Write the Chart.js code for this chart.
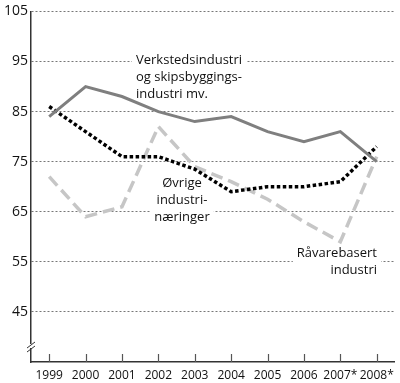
<!DOCTYPE html>
<html lang="no">
<head>
    <meta charset="UTF-8">
    <title>Industri</title>
    <script src="https://cdn.jsdelivr.net/npm/chart.js"></script>
    <style>
        body { margin: 0; background: #fff; }
        #wrap { width: 400px; height: 383px; position: relative; }
    </style>
</head>
<body>
    <div id="wrap"><canvas id="myChart" width="400" height="383"></canvas></div>

    <script>
        // categories and values
        const years = ['1999', '2000', '2001', '2002', '2003', '2004', '2005', '2006', '2007*', '2008*'];
        const verksted = [84, 90, 88, 85, 83, 84, 81, 79, 81, 75];
        const ovrige = [86, 81, 76, 76, 73.5, 69, 70, 70, 71, 78];
        const ravare = [72, 64, 66, 82, 74, 71, 67.5, 63, 59, 76];
        const yTicks = [45, 55, 65, 75, 85, 95, 105];

        const FONT = '"Open Sans", sans-serif';

        // text labels placed in the plot
        const labels = [
            { lines: ['Verkstedsindustri', 'og skipsbyggings-', 'industri mv.'], x: 136, y: 60, align: 'left' },
            { lines: ['Øvrige', 'industri-', 'næringer'], x: 182, y: 183, align: 'center' },
            { lines: ['Råvarebasert', 'industri'], x: 377, y: 253, align: 'right' }
        ];

        const extras = {
            id: 'extras',
            beforeDatasetsDraw(chart) {
                const ctx = chart.ctx;
                ctx.save();
                ctx.font = '13px ' + FONT;
                ctx.textBaseline = 'middle';
                labels.forEach(l => {
                    const widths = l.lines.map(s => ctx.measureText(s).width);
                    const w = Math.max(...widths);
                    let left = l.x;
                    if (l.align === 'center') left = l.x - w / 2;
                    if (l.align === 'right') left = l.x - w;
                    ctx.fillStyle = '#fff';
                    ctx.fillRect(left - 4, l.y - 9, w + 8, 17 * (l.lines.length - 1) + 18);
                    ctx.fillStyle = '#111';
                    ctx.textAlign = l.align;
                    l.lines.forEach((s, i) => ctx.fillText(s, l.x, l.y + i * 17));
                });
                ctx.restore();
            },
            afterDraw(chart) {
                const ctx = chart.ctx;
                const xs = chart.scales.x;
                const area = chart.chartArea;
                ctx.save();
                // small tick marks on the x axis
                ctx.strokeStyle = '#555';
                ctx.lineWidth = 1.2;
                years.forEach((y, i) => {
                    const px = Math.round(xs.getPixelForTick(i)) + 0.5;
                    ctx.beginPath();
                    ctx.moveTo(px, area.bottom);
                    ctx.lineTo(px, area.bottom - 8);
                    ctx.stroke();
                });
                // axis break mark
                const bx = area.left, by = area.bottom - 15;
                ctx.fillStyle = '#fff';
                ctx.fillRect(bx - 3, by - 3, 6, 4);
                ctx.strokeStyle = '#333';
                ctx.lineWidth = 1;
                ctx.beginPath();
                ctx.moveTo(bx - 4, by + 1); ctx.lineTo(bx + 4, by - 5);
                ctx.moveTo(bx - 4, by + 5); ctx.lineTo(bx + 4, by - 1);
                ctx.stroke();
                ctx.restore();
            }
        };

        const ctx = document.getElementById('myChart').getContext('2d');
        new Chart(ctx, {
            type: 'line',
            data: {
                labels: years,
                datasets: [
                    {
                        label: 'Verkstedsindustri og skipsbyggingsindustri mv.',
                        data: verksted,
                        borderColor: '#7f7f7f',
                        borderWidth: 3,
                        pointRadius: 0,
                        tension: 0
                    },
                    {
                        label: 'Øvrige industrinæringer',
                        data: ovrige,
                        borderColor: '#000',
                        borderWidth: 3.5,
                        borderDash: [3.5, 2.5],
                        pointRadius: 0,
                        tension: 0
                    },
                    {
                        label: 'Råvarebasert industri',
                        data: ravare,
                        borderColor: '#c6c6c6',
                        borderWidth: 3.5,
                        borderDash: [12, 6],
                        pointRadius: 0,
                        tension: 0
                    }
                ]
            },
            options: {
                responsive: false,
                animation: false,
                events: [],
                layout: { padding: { top: 8, right: 5, left: 0, bottom: 0 } },
                plugins: {
                    legend: { display: false },
                    tooltip: { enabled: false }
                },
                scales: {
                    x: {
                        offset: true,
                        grid: { display: false, drawTicks: false, tickLength: 0 },
                        border: { color: '#333', width: 1.5 },
                        ticks: {
                            color: '#111',
                            font: { family: FONT, size: 12 },
                            padding: 6,
                            maxRotation: 0,
                            autoSkip: false
                        },
                        afterFit(s) { s.height = 21; }
                    },
                    y: {
                        min: 35,
                        max: 105,
                        afterBuildTicks(s) { s.ticks = yTicks.map(v => ({ value: v })); },
                        grid: { color: '#777', lineWidth: 1, drawTicks: false },
                        border: { color: '#333', width: 1.5, dash: [2, 2] },
                        ticks: {
                            color: '#111',
                            font: { family: FONT, size: 14 },
                            padding: 3
                        },
                        afterFit(s) { s.width = 31; }
                    }
                }
            },
            plugins: [extras]
        });
    </script>
</body>
</html>
